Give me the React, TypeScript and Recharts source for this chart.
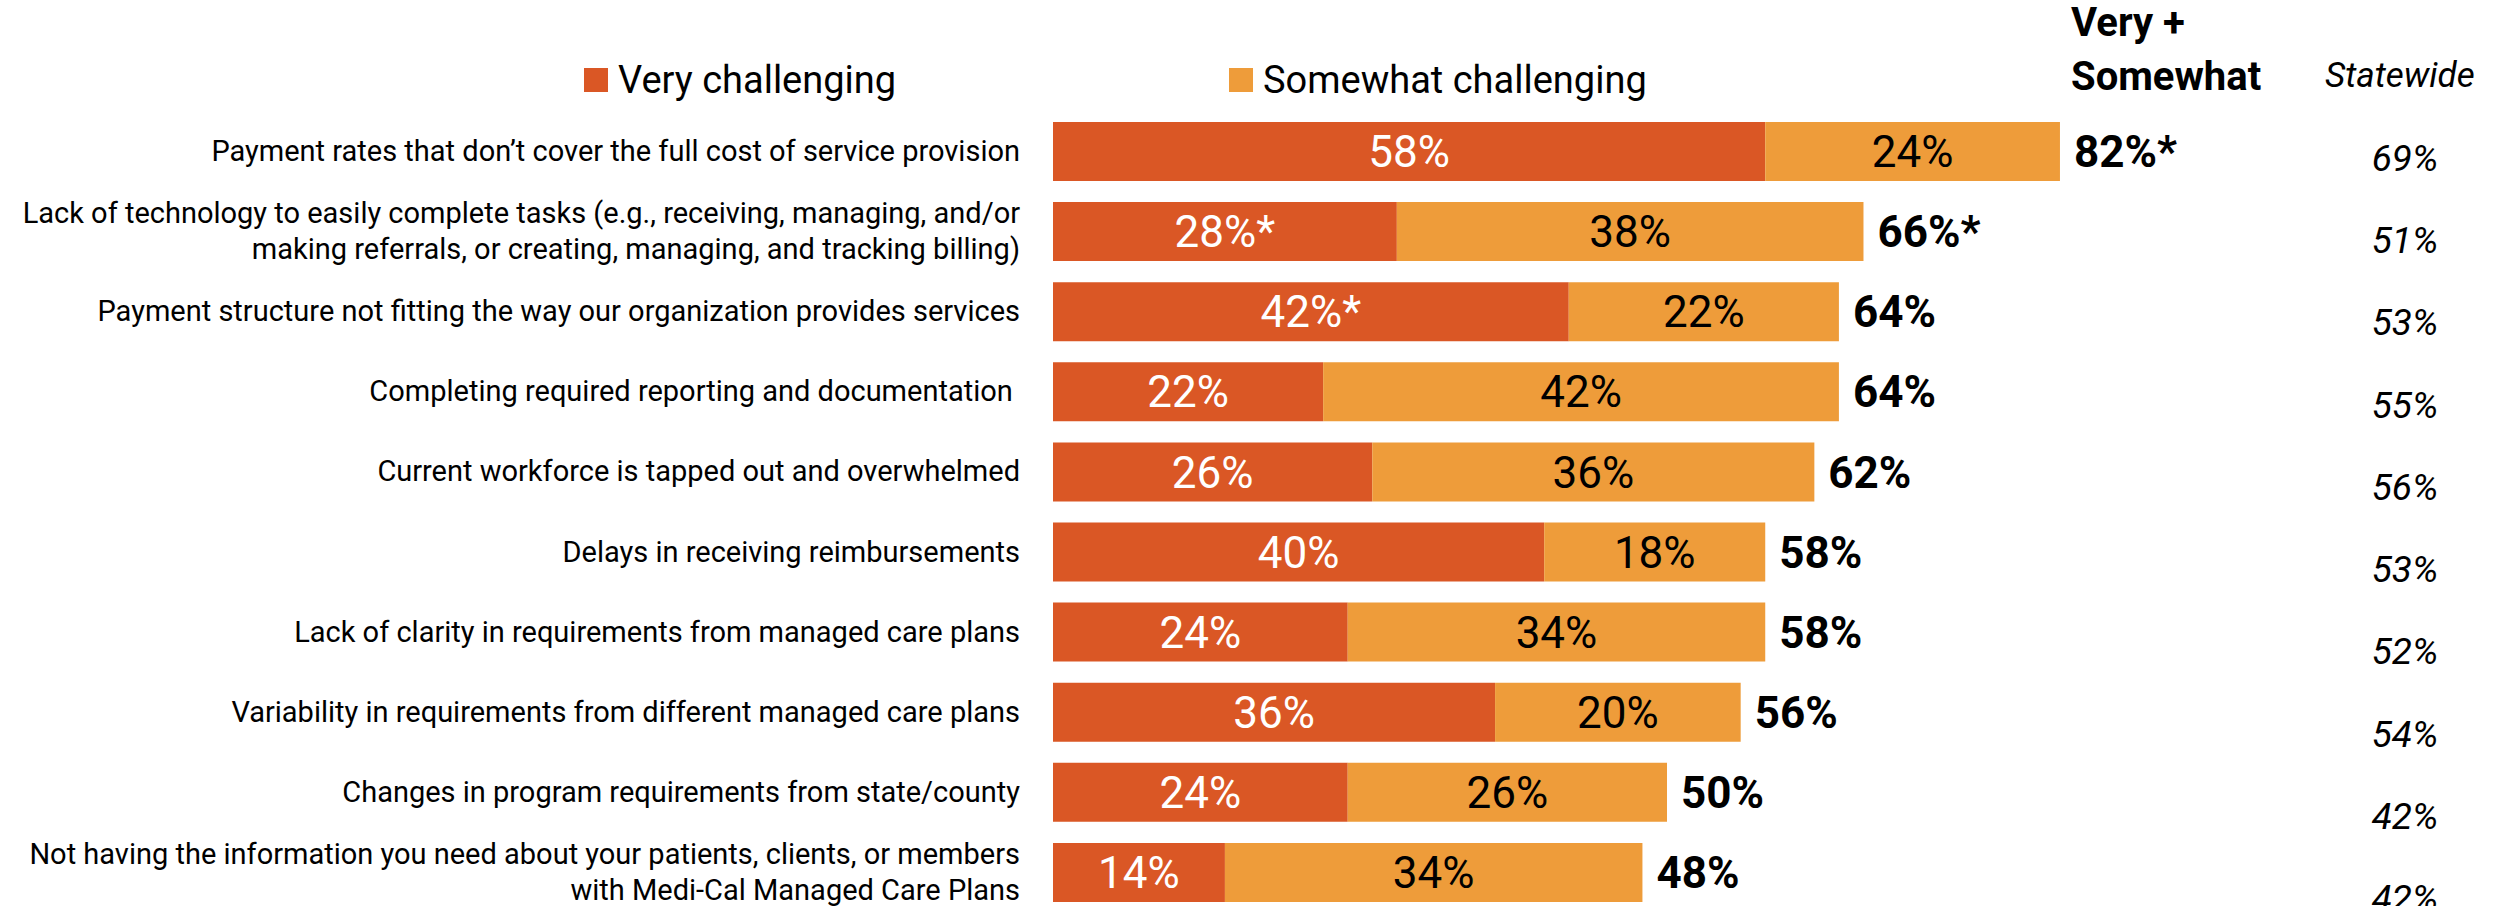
import React from "react";
import { BarChart, Bar, XAxis, YAxis, LabelList } from "recharts";

const categories = [
  "Payment rates that don’t cover the full cost of service provision",
  "Lack of technology to easily complete tasks (e.g., receiving, managing, and/or\nmaking referrals, or creating, managing, and tracking billing)",
  "Payment structure not fitting the way our organization provides services",
  "Completing required reporting and documentation\u00a0",
  "Current workforce is tapped out and overwhelmed",
  "Delays in receiving reimbursements",
  "Lack of clarity in requirements from managed care plans",
  "Variability in requirements from different managed care plans",
  "Changes in program requirements from state/county",
  "Not having the information you need about your patients, clients, or members\nwith Medi-Cal Managed Care Plans",
];

const veryValues = [58, 28, 42, 22, 26, 40, 24, 36, 24, 14];
const somewhatValues = [24, 38, 22, 42, 36, 18, 34, 20, 26, 34];
const veryLabels = ["58%", "28%*", "42%*", "22%", "26%", "40%", "24%", "36%", "24%", "14%"];
const somewhatLabels = ["24%", "38%", "22%", "42%", "36%", "18%", "34%", "20%", "26%", "34%"];
const totalLabels = ["82%*", "66%*", "64%", "64%", "62%", "58%", "58%", "56%", "50%", "48%"];
const statewide = ["69%", "51%", "53%", "55%", "56%", "53%", "52%", "54%", "42%", "42%"];

const VERY = "#DA5725";
const SOMEWHAT = "#EE9C3A";
const FONT = "Roboto, 'Noto Sans', sans-serif";

const data = categories.map((label, i) => ({
  label,
  very: veryValues[i],
  somewhat: somewhatValues[i],
  veryLabel: veryLabels[i],
  somewhatLabel: somewhatLabels[i],
  total: totalLabels[i],
  sw: statewide[i],
}));

const CategoryTick = ({ x, y, payload }: any) => {
  const lines = String(payload.value).split("\n");
  const lh = 36;
  const start = -((lines.length - 1) * lh) / 2;
  return (
    <text x={x} y={y} textAnchor="end" fontSize={29} fontFamily={FONT} fill="#000" dominantBaseline="central">
      {lines.map((l, i) => (
        <tspan key={i} x={x} y={y + start + i * lh}>
          {l}
        </tspan>
      ))}
    </text>
  );
};

const StatewideTick = ({ x, y, index }: any) => (
  <text x={x} y={y} textAnchor="middle" dominantBaseline="central" fontSize={37} fontStyle="italic" fontFamily={FONT} fill="#000">
    {statewide[index]}
  </text>
);

const legendItems = [
  { name: "Very challenging", color: VERY },
  { name: "Somewhat challenging", color: SOMEWHAT },
];

export default function App() {
  return (
    <div style={{ position: "absolute", left: 0, top: 0, width: 2494, height: 906, overflow: "hidden", background: "#fff", fontFamily: FONT }}>
      {/* legend */}
      <div style={{ position: "absolute", left: 584, top: 58, display: "flex" }}>
        {legendItems.map((it) => (
          <div key={it.name} style={{ width: 645, display: "flex", alignItems: "center" }}>
            <span style={{ width: 24, height: 24, background: it.color, display: "inline-block", marginRight: 10 }} />
            <span style={{ fontSize: 38, color: "#000", lineHeight: "44px" }}>{it.name}</span>
          </div>
        ))}
      </div>
      {/* column headers */}
      <div style={{ position: "absolute", left: 2071, top: -4, fontSize: 40, fontWeight: 700, lineHeight: "54px", color: "#000" }}>
        <div>Very +</div>
        <div>Somewhat</div>
      </div>
      <div style={{ position: "absolute", left: 2325, top: 54, fontSize: 35, fontStyle: "italic", lineHeight: "44px", color: "#000" }}>
        Statewide
      </div>

      <BarChart
        width={2494}
        height={912}
        data={data}
        layout="vertical"
        margin={{ top: 111, right: 0, bottom: 0, left: 0 }}
        barSize={59}
      >
        <XAxis type="number" domain={[0, 100]} hide />
        <YAxis
          type="category"
          dataKey="label"
          width={1053}
          tickSize={0}
          tickMargin={33}
          axisLine={false}
          tickLine={false}
          interval={0}
          tick={<CategoryTick />}
        />
        <YAxis
          yAxisId="sw"
          orientation="right"
          type="category"
          dataKey="label"
          width={213}
          tickSize={0}
          tickMargin={124}
          axisLine={false}
          tickLine={false}
          interval={0}
          padding={{ top: 6, bottom: -28 }}
          tick={<StatewideTick />}
        />
        <Bar dataKey="very" stackId="a" fill={VERY} isAnimationActive={false}>
          <LabelList dataKey="veryLabel" position="center" fill="#fff" fontSize={44} fontFamily={FONT} />
        </Bar>
        <Bar dataKey="somewhat" stackId="a" fill={SOMEWHAT} isAnimationActive={false}>
          <LabelList dataKey="somewhatLabel" position="center" fill="#000" fontSize={44} fontFamily={FONT} />
          <LabelList dataKey="total" position="right" offset={14} fill="#000" fontSize={44} fontWeight={700} fontFamily={FONT} />
        </Bar>
      </BarChart>
    </div>
  );
}
